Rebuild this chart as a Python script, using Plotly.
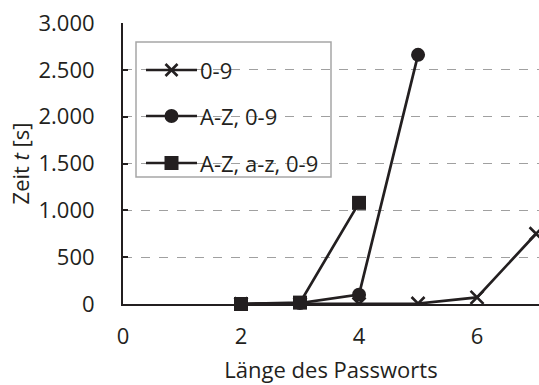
import plotly.graph_objects as go

# Password length vs. brute-force time for three character sets
laenge = [2, 3, 4, 5, 6, 7]
zeit_ziffern = [0, 0, 0, 5, 70, 750]           # 0-9
laenge_az = [2, 3, 4, 5]
zeit_az_ziffern = [0, 10, 100, 2660]           # A-Z, 0-9
laenge_aza = [2, 3, 4]
zeit_aza_ziffern = [0, 15, 1080]               # A-Z, a-z, 0-9

serien_namen = ["0-9", "A-Z, 0-9", "A-Z, a-z, 0-9"]
x_ticks = [0, 2, 4, 6]
y_ticks = [0, 500, 1000, 1500, 2000, 2500, 3000]

FONT = "Open Sans"
FS = 22
INK = "#231f20"

W, H = 539, 385
ML, MR, MT, MB = 123, 0, 23, 81
PW, PH = W - ML - MR, H - MT - MB


def px_x(px):
    return (px - ML) / PW


def px_y(py):
    return (H - MB - py) / PH


fig = go.Figure()

line = dict(color=INK, width=2.7)
x_marker = dict(symbol="x-thin", size=13, color=INK, line=dict(color=INK, width=2.6))
fig.add_trace(go.Scatter(x=laenge, y=zeit_ziffern, mode="lines+markers",
                         line=line, cliponaxis=True, marker=x_marker,
                         showlegend=False))
fig.add_trace(go.Scatter(x=laenge_az, y=zeit_az_ziffern, mode="lines+markers",
                         line=line, cliponaxis=False,
                         marker=dict(symbol="circle", size=14, color=INK),
                         showlegend=False))
fig.add_trace(go.Scatter(x=laenge_aza, y=zeit_aza_ziffern, mode="lines+markers",
                         line=line, cliponaxis=False,
                         marker=dict(symbol="square", size=14, color=INK),
                         showlegend=False))

# Legend box: white fill hides the gridlines
fig.add_shape(type="rect", xref="paper", yref="paper", layer="between",
              x0=px_x(136), x1=px_x(331), y0=px_y(177), y1=px_y(42),
              line=dict(color="#a6a6a6", width=1.5), fillcolor="white")

# Legend glyphs (line with a centred marker), drawn as shapes in pixel offsets
leg_rows = [70, 116, 163]
gx0, gx1 = 146, 197
gxm = (gx0 + gx1) / 2
for i, row in enumerate(leg_rows):
    fig.add_shape(type="line", xref="paper", yref="paper",
                  x0=px_x(gx0), x1=px_x(gx1), y0=px_y(row), y1=px_y(row),
                  line=dict(color=INK, width=2.7))
    if i == 0:
        r = 6
        for d in (1, -1):
            fig.add_shape(type="line", xref="paper", yref="paper",
                          x0=px_x(gxm - r), x1=px_x(gxm + r),
                          y0=px_y(row - d * r), y1=px_y(row + d * r),
                          line=dict(color=INK, width=2.6))
    elif i == 1:
        r = 7
        fig.add_shape(type="circle", xref="paper", yref="paper",
                      x0=px_x(gxm - r), x1=px_x(gxm + r),
                      y0=px_y(row + r), y1=px_y(row - r),
                      line=dict(color=INK, width=0), fillcolor=INK)
    else:
        r = 7
        fig.add_shape(type="rect", xref="paper", yref="paper",
                      x0=px_x(gxm - r), x1=px_x(gxm + r),
                      y0=px_y(row + r), y1=px_y(row - r),
                      line=dict(color=INK, width=0), fillcolor=INK)

for name, row in zip(serien_namen, leg_rows):
    fig.add_annotation(x=px_x(198), y=px_y(row), xref="paper", yref="paper",
                       text=name, showarrow=False, xanchor="left", yanchor="middle",
                       font=dict(family=FONT, size=FS, color=INK))

fig.update_layout(
    width=W, height=H,
    margin=dict(l=ML, r=MR, t=MT, b=MB),
    paper_bgcolor="white", plot_bgcolor="white",
    separators=",.",
    font=dict(family=FONT, size=FS, color=INK),
    xaxis=dict(range=[0, 7.05], tickvals=x_ticks, showgrid=False, zeroline=False,
               showline=True, linecolor=INK, linewidth=2, ticks="",
               ticklabelstandoff=12,
               title=dict(text="Länge des Passworts", standoff=13,
                          font=dict(family=FONT, size=FS, color=INK)),
               tickfont=dict(family=FONT, size=FS, color=INK)),
    yaxis=dict(range=[0, 3000], tickvals=y_ticks, showgrid=True,
               gridcolor="#a0a0a0", griddash="dash", gridwidth=1.3,
               zeroline=False, showline=True, linecolor=INK, linewidth=2,
               ticks="inside", ticklen=5, tickcolor=INK, tickwidth=2,
               ticklabelstandoff=22, tickformat=",d",
               title=dict(text="Zeit <i>t</i> [s]", standoff=3,
                          font=dict(family=FONT, size=FS, color=INK)),
               tickfont=dict(family=FONT, size=FS, color=INK)),
)

fig.write_html("out.html")
